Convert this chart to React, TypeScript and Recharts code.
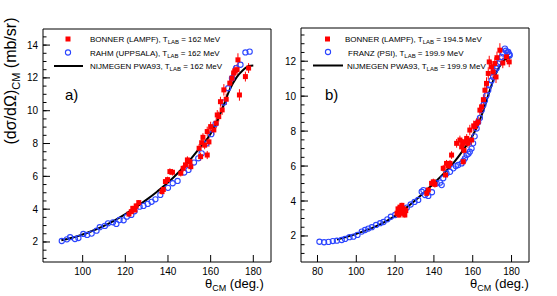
import React from "react";
import { ComposedChart, Line, Scatter, XAxis, YAxis, ErrorBar } from "recharts";

const FONT = "'Liberation Sans', Arial, Helvetica, sans-serif";
const RED = "#ff0000";
const BLUE = "#2b45ff";

// a) T_LAB = 162 MeV  -> [theta_cm, dsigma/dOmega, error]
const bonnerA = [
    [121.7, 3.7, 0.15], [122.8, 3.85, 0.15], [123.5, 4.05, 0.15], [124.5, 3.95, 0.15], [125.1, 4.2, 0.15],
    [126.3, 4.4, 0.15], [137.2, 5.07, 0.18], [137.8, 5.2, 0.18], [138.8, 5.68, 0.18], [139.8, 5.8, 0.18],
    [140.9, 6.29, 0.2], [142.1, 6.25, 0.2], [146.0, 6.19, 0.2], [147.1, 6.49, 0.2], [148.2, 6.7, 0.2],
    [149.1, 7.0, 0.22], [150.3, 6.9, 0.22], [150.7, 6.59, 0.22], [154.6, 7.71, 0.25], [155.3, 7.2, 0.25],
    [155.8, 8.05, 0.25], [156.4, 8.38, 0.25], [157.2, 7.9, 0.25], [158.4, 7.3, 0.25], [158.4, 8.73, 0.3],
    [159.2, 8.1, 0.3], [160.0, 9.03, 0.3], [161.5, 8.83, 0.3], [162.6, 9.24, 0.3], [163.1, 9.74, 0.3],
    [163.8, 9.64, 0.3], [164.6, 10.55, 0.3], [165.4, 10.05, 0.3], [166.2, 11.27, 0.35], [167.3, 10.7, 0.35],
    [169.0, 11.68, 0.35], [170.0, 11.98, 0.35], [170.8, 12.3, 0.35], [171.3, 12.43, 0.35], [172.4, 12.5, 0.35],
    [172.8, 13.1, 0.4], [173.5, 10.96, 0.35], [176.3, 12.08, 0.3], [177.8, 12.6, 0.3],
];
const rahmA = [
    [90.2, 2.06], [92.6, 2.16], [94.1, 2.29], [96.4, 2.18], [98.0, 2.24], [100.3, 2.49], [102.1, 2.43],
    [104.2, 2.51], [106.5, 2.69], [108.0, 2.9], [110.4, 2.98], [111.9, 3.14], [114.2, 3.2], [115.8, 3.1],
    [117.3, 3.34], [119.2, 3.32], [120.7, 3.54], [122.8, 3.65], [124.3, 3.87], [126.7, 4.15], [128.5, 4.2],
    [130.5, 4.32], [132.3, 4.45], [134.1, 4.6], [136.4, 4.87], [140.0, 5.3], [142.2, 5.58], [144.5, 5.72],
    [147.6, 6.23], [149.6, 6.39], [152.2, 6.84], [154.2, 7.1], [155.8, 7.4], [158.0, 8.0], [160.3, 8.57],
    [162.3, 9.2], [166.2, 10.5], [168.2, 11.37], [170.0, 11.98], [171.9, 12.6], [174.0, 12.8],
    [176.3, 13.55], [178.3, 13.6],
];
const pwa93A = [
    [90, 2.1], [95, 2.26], [100, 2.46], [105, 2.7], [110, 2.98], [115, 3.32], [120, 3.7], [125, 4.12],
    [130, 4.58], [135, 5.08], [140, 5.62], [145, 6.25], [150, 6.95], [155, 7.75], [160, 8.6], [163, 9.35],
    [166, 10.3], [169, 11.3], [172, 12.0], [175, 12.45], [178, 12.72], [180, 12.75],
];

// b) T_LAB = 194.5 / 199.9 MeV
const bonnerB = [
    [121.0, 3.3, 0.15], [121.5, 3.55, 0.15], [122.0, 3.2, 0.15], [122.5, 3.65, 0.15], [123.0, 3.4, 0.15],
    [123.5, 3.75, 0.15], [124.0, 3.3, 0.15], [124.5, 3.55, 0.15], [125.0, 3.2, 0.15], [125.5, 3.45, 0.15],
    [136.3, 4.44, 0.18], [137.1, 4.63, 0.18], [138.8, 5.01, 0.18], [139.7, 5.1, 0.18], [140.5, 4.95, 0.18],
    [144.8, 5.87, 0.2], [146.0, 5.49, 0.2], [146.5, 6.15, 0.2], [147.5, 6.0, 0.2], [148.3, 6.15, 0.2],
    [149.1, 6.63, 0.22], [151.7, 7.3, 0.25], [153.4, 7.49, 0.25], [154.3, 7.1, 0.25], [154.8, 7.3, 0.25],
    [155.1, 6.25, 0.25], [155.5, 6.9, 0.25], [156.0, 7.39, 0.25], [156.9, 7.58, 0.25], [157.5, 7.3, 0.25],
    [158.5, 8.06, 0.3], [159.4, 7.49, 0.3], [160.5, 8.3, 0.3], [161.1, 8.25, 0.3], [162.0, 8.44, 0.3],
    [162.8, 8.53, 0.3], [163.7, 9.2, 0.3], [164.6, 9.39, 0.3], [165.5, 9.8, 0.3], [166.3, 10.34, 0.35],
    [167.1, 10.73, 0.35], [168.0, 11.3, 0.35], [168.5, 11.96, 0.35], [169.7, 11.68, 0.35], [170.5, 11.39, 0.35],
    [171.4, 11.87, 0.35], [172.0, 11.1, 0.35], [172.5, 12.2, 0.35], [174.0, 12.63, 0.4], [175.5, 11.9, 0.3],
    [177.4, 12.25, 0.3], [178.8, 11.96, 0.3],
];
const franzB = [
    [81.0, 1.67], [83.4, 1.64], [85.7, 1.66], [87.9, 1.71], [90.0, 1.73], [92.5, 1.77], [94.2, 1.83],
    [96.5, 1.93], [98.5, 1.96], [100.6, 2.06], [102.8, 2.25], [104.5, 2.34], [106.2, 2.42], [108.0, 2.5],
    [110.2, 2.63], [112.3, 2.73], [114.0, 2.8], [116.0, 2.95], [117.8, 3.1], [120.0, 3.2], [122.0, 3.3],
    [124.0, 3.48], [126.0, 3.62], [128.0, 3.8], [130.0, 3.95], [131.9, 4.06], [133.7, 4.53], [134.6, 4.62],
    [135.4, 4.34], [137.1, 4.29], [139.0, 4.5], [141.4, 5.01], [143.1, 5.05], [144.0, 4.91], [144.8, 5.3],
    [146.5, 5.58], [148.3, 5.67], [150.0, 5.87], [151.3, 6.0], [152.5, 6.06], [154.3, 6.15], [155.2, 6.3],
    [156.0, 6.44], [156.9, 6.63], [157.8, 6.7], [158.5, 6.82], [159.4, 7.0], [160.2, 7.3], [161.0, 7.7],
    [162.0, 8.15], [162.8, 8.5], [163.7, 8.75], [164.6, 9.2], [165.5, 9.5], [166.3, 9.75], [167.1, 10.05],
    [168.0, 10.34], [168.8, 10.65], [169.7, 10.9], [170.5, 11.1], [171.4, 11.45], [172.3, 11.6],
    [173.1, 11.87], [174.0, 11.95], [174.9, 12.25], [175.7, 12.44], [176.6, 12.72], [177.1, 12.6],
    [177.8, 12.5], [178.3, 12.53], [178.8, 12.4], [179.1, 12.34],
];
const pwa93B = [
    [90, 1.8], [95, 1.95], [100, 2.12], [105, 2.32], [110, 2.55], [115, 2.82], [120, 3.15], [125, 3.55],
    [130, 4.0], [135, 4.5], [140, 5.02], [145, 5.57], [150, 6.17], [155, 6.9], [160, 7.75], [163, 8.45],
    [166, 9.35], [169, 10.4], [172, 11.3], [175, 11.9], [178, 12.18], [180, 12.22],
];

const xTicksA = [100, 120, 140, 160, 180];
const yTicksA = [2, 4, 6, 8, 10, 12, 14];
const xTicksB = [80, 100, 120, 140, 160, 180];
const yTicksB = [2, 4, 6, 8, 10, 12];

// minor tick positions (inner ticks, ROOT style)
const steps = (from: number, to: number, step: number) => {
    const out: number[] = [];
    for (let v = from; v <= to + 1e-9; v += step) out.push(+v.toFixed(2));
    return out;
};

const toPts = (rows: number[][]) => rows.map(([x, y, e]) => ({ x, y, e }));

const Square = (p: any) => <rect x={p.cx - 2.5} y={p.cy - 2.5} width={5} height={5} fill={RED} />;
const Ring = (p: any) => <circle cx={p.cx} cy={p.cy} r={2.6} fill="none" stroke={BLUE} strokeWidth={1.1} />;

// ticks point inward, labels sit outside the frame
const xTick = (bottom: number, len: number, label: boolean) => (t: any) => (
    <g>
        <line x1={t.x} x2={t.x} y1={bottom} y2={bottom - len} stroke="#000" strokeWidth={1} />
        {label && (
            <text x={t.x} y={bottom + 13} textAnchor="middle" fontSize={10} fontFamily={FONT} fill="#000">
                {t.payload.value}
            </text>
        )}
    </g>
);
const yTick = (left: number, len: number, label: boolean) => (t: any) => (
    <g>
        <line x1={left} x2={left + len} y1={t.y} y2={t.y} stroke="#000" strokeWidth={1} />
        {label && (
            <text x={left - 5} y={t.y + 3.5} textAnchor="end" fontSize={10} fontFamily={FONT} fill="#000">
                {t.payload.value}
            </text>
        )}
    </g>
);

type PanelProps = {
    left: number;
    width: number;
    margin: { top: number; right: number; bottom: number; left: number };
    yWidth: number;
    xDomain: [number, number];
    yDomain: [number, number];
    xTicks: number[];
    yTicks: number[];
    xMinor: number[];
    yMinor: number[];
    red: number[][];
    blue: number[][];
    curve: number[][];
};

const Panel: React.FC<PanelProps> = (p) => {
    const common = { type: "number" as const, allowDataOverflow: true };
    const bottom = 296 - p.margin.bottom - 20;
    const leftX = p.margin.left + p.yWidth;
    return (
        <div style={{ position: "absolute", left: p.left, top: 0 }}>
            <ComposedChart width={p.width} height={296} margin={p.margin}>
                <XAxis xAxisId="m" {...common} dataKey="x" domain={p.xDomain} ticks={p.xTicks} interval={0}
                    tickLine={false} height={20} axisLine={{ stroke: "#000" }} tick={xTick(bottom, 7, true)} />
                <XAxis xAxisId="xn" {...common} domain={p.xDomain} ticks={p.xMinor} interval={0} mirror
                    axisLine={false} tickLine={false} tick={xTick(bottom, 3.5, false)} />
                <XAxis xAxisId="top" {...common} orientation="top" domain={p.xDomain} mirror
                    tick={false} tickLine={false} axisLine={{ stroke: "#000" }} />

                <YAxis yAxisId="m" {...common} dataKey="y" domain={p.yDomain} ticks={p.yTicks} interval={0}
                    tickLine={false} width={p.yWidth} axisLine={{ stroke: "#000" }} tick={yTick(leftX, 7, true)} />
                <YAxis yAxisId="yn" {...common} domain={p.yDomain} ticks={p.yMinor} interval={0} mirror
                    axisLine={false} tickLine={false} tick={yTick(leftX, 3.5, false)} />
                <YAxis yAxisId="right" {...common} orientation="right" domain={p.yDomain} mirror
                    tick={false} tickLine={false} axisLine={{ stroke: "#000" }} />

                <Scatter xAxisId="m" yAxisId="m" data={toPts(p.blue)} shape={Ring} isAnimationActive={false} />
                <Scatter xAxisId="m" yAxisId="m" data={toPts(p.red)} shape={Square} isAnimationActive={false}>
                    <ErrorBar dataKey="e" direction="y" width={0} stroke={RED} strokeWidth={1} />
                </Scatter>
                <Line xAxisId="m" yAxisId="m" data={toPts(p.curve)} dataKey="y" type="monotone" stroke="#000"
                    strokeWidth={2} dot={false} isAnimationActive={false} />
            </ComposedChart>
        </div>
    );
};

const LegendRow: React.FC<{ x: number; y: number; name: string; t: string }> = ({ x, y, name, t }) => (
    <text x={x} y={y + 3} fontSize={8} fontFamily={FONT} fill="#000">
        {name}, T<tspan fontSize={6} dy={2}>LAB</tspan><tspan dy={-2}> = {t} MeV</tspan>
    </text>
);

const ThetaTitle: React.FC<{ x: number; y: number }> = ({ x, y }) => (
    <text x={x} y={y} fontSize={13} fontFamily={FONT} fill="#000">
        θ<tspan fontSize={9} dy={3}>CM</tspan><tspan dy={-3}> (deg.)</tspan>
    </text>
);

const App: React.FC = () => (
    <div style={{ position: "absolute", left: 0, top: 0, width: 557, height: 296, background: "#fff" }}>
        <Panel left={0} width={280} margin={{ top: 29, right: 9, bottom: 14, left: 18 }} yWidth={25}
            xDomain={[81.4, 188.3]} yDomain={[0.78, 14.98]} xTicks={xTicksA} yTicks={yTicksA}
            xMinor={steps(84, 188, 4)} yMinor={steps(1, 14.5, 0.5)}
            red={bonnerA} blue={rahmA} curve={pwa93A} />
        <Panel left={280} width={277} margin={{ top: 28, right: 28, bottom: 14, left: 0 }} yWidth={21}
            xDomain={[71.5, 189]} yDomain={[0.51, 13.9]} xTicks={xTicksB} yTicks={yTicksB}
            xMinor={steps(72, 188, 4)} yMinor={steps(1, 13.5, 0.5)}
            red={bonnerB} blue={franzB} curve={pwa93B} />

        <svg width={557} height={296} style={{ position: "absolute", left: 0, top: 0, pointerEvents: "none" }}>
            {/* panel a legend */}
            <rect x={65.5} y={36.5} width={5} height={5} fill={RED} />
            <circle cx={68} cy={52.5} r={2.6} fill="none" stroke={BLUE} strokeWidth={1.1} />
            <line x1={54} x2={83} y1={66} y2={66} stroke="#000" strokeWidth={2} />
            <LegendRow x={90} y={39} name="BONNER (LAMPF)" t="162" />
            <LegendRow x={90} y={53} name="RAHM (UPPSALA)" t="162" />
            <LegendRow x={90} y={66} name="NIJMEGEN PWA93" t="162" />
            <text x={65} y={100} fontSize={15} fontFamily={FONT}>a)</text>

            {/* panel b legend */}
            <rect x={325} y={36.5} width={5} height={5} fill={RED} />
            <circle cx={328} cy={52} r={2.6} fill="none" stroke={BLUE} strokeWidth={1.1} />
            <line x1={313} x2={343} y1={65.5} y2={65.5} stroke="#000" strokeWidth={2} />
            <LegendRow x={345} y={39} name="BONNER (LAMPF)" t="194.5" />
            <LegendRow x={348} y={52.5} name="FRANZ (PSI)" t="199.9" />
            <LegendRow x={347} y={66} name="NIJMEGEN PWA93" t="199.9" />
            <text x={325} y={100} fontSize={15} fontFamily={FONT}>b)</text>

            {/* axis titles */}
            <text transform="translate(16,81) rotate(-90)" textAnchor="middle" fontSize={16} fontFamily={FONT}>
                (dσ/dΩ)<tspan fontSize={11} dy={4}>CM</tspan><tspan dy={-4}> (mb/sr)</tspan>
            </text>
            <ThetaTitle x={205} y={288} />
            <ThetaTitle x={470} y={288} />
        </svg>
    </div>
);

export default App;
